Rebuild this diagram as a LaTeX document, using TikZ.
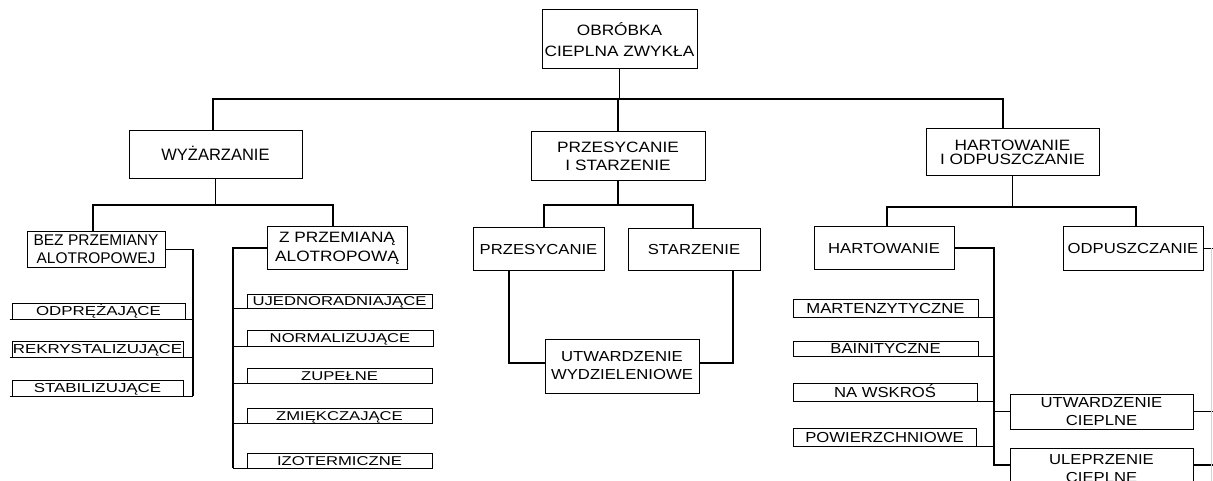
\documentclass[tikz,border=0pt]{standalone}
\usepackage{fontspec}
\setmainfont{Liberation Sans}
\newfontfamily\fA{Liberation Sans}
\newfontfamily\fB{Liberation Sans}[FakeStretch=1.15]
\newfontfamily\fC{Liberation Sans}[FakeStretch=1.3]
\usetikzlibrary{calc}
\begin{document}
\begin{tikzpicture}[x=1pt,y=-1pt,
  box/.style={draw, line width=1pt, inner sep=0pt, align=center},
  sbox/.style={draw, line width=0.8pt, inner sep=0pt, text height=9.3pt, text depth=0pt},
  lsub/.style={sbox, font=\fC\fontsize{13}{15}\selectfont},
  msub/.style={sbox, font=\fC\fontsize{12.8}{15}\selectfont, text height=9.1pt},
  rsub/.style={sbox, font=\fB\fontsize{14.5}{16}\selectfont, text height=10.4pt},
  mid/.style={box, font=\fB\fontsize{14.5}{18}\selectfont},
  conn/.style={line width=1.4pt}]
\useasboundingbox (0,0) rectangle (1213,481);
\clip (0,0) rectangle (1213,481);

% level 0 and 1
\node[box, minimum width=155pt, minimum height=59pt, font=\fB\fontsize{15}{21}\selectfont] (top) at (619.5,39.5) {OBRÓBKA\\CIEPLNA ZWYKŁA};
\node[box, minimum width=173pt, minimum height=48pt, font=\fA\fontsize{16.5}{18}\selectfont, text height=11.8pt, text depth=0pt] (wyz) at (215.5,155) {WYŻARZANIE};
\node[box, minimum width=174pt, minimum height=49pt, font=\fB\fontsize{15}{18}\selectfont] (prz) at (618,156.5) {PRZESYCANIE\\I STARZENIE};
\node[box, minimum width=173pt, minimum height=47pt, font=\fB\fontsize{15}{13.5}\selectfont] (hart) at (1012.5,152.5) {HARTOWANIE\\I ODPUSZCZANIE};

% level 2 left
\node[box, minimum width=138pt, minimum height=35pt, font=\fA\fontsize{15.5}{18}\selectfont] (bez) at (96,249.5) {BEZ PRZEMIANY\\ALOTROPOWEJ};
\node[box, minimum width=140pt, minimum height=42pt, font=\fB\fontsize{15}{19}\selectfont] (zpr) at (337,248) {Z PRZEMIANĄ\\ALOTROPOWĄ};

\node[lsub, minimum width=173pt, minimum height=16pt] (odp) at (98.5,311) {ODPRĘŻAJĄCE};
\node[lsub, minimum width=171pt, minimum height=16pt] (rek) at (97.5,349) {REKRYSTALIZUJĄCE};
\node[lsub, minimum width=171pt, minimum height=16pt] (stab) at (97.5,388) {STABILIZUJĄCE};

\node[msub, minimum width=185pt, minimum height=14pt] (uje) at (339.5,301) {UJEDNORADNIAJĄCE};
\node[msub, minimum width=186pt, minimum height=16pt] (norm) at (340,338) {NORMALIZUJĄCE};
\node[msub, minimum width=185pt, minimum height=15pt] (zup) at (339.5,375.5) {ZUPEŁNE};
\node[msub, minimum width=185pt, minimum height=15pt] (zmi) at (339.5,415.5) {ZMIĘKCZAJĄCE};
\node[msub, minimum width=185pt, minimum height=15pt] (izo) at (339.5,460.5) {IZOTERMICZNE};

% level 2 middle
\node[mid, minimum width=131pt, minimum height=42pt, text height=10.4pt, text depth=0pt] (przes) at (538.5,249) {PRZESYCANIE};
\node[mid, minimum width=132pt, minimum height=41pt, text height=10.4pt, text depth=0pt] (star) at (694,249.5) {STARZENIE};
\node[mid, minimum width=154pt, minimum height=54pt] (utw) at (622,366) {UTWARDZENIE\\WYDZIELENIOWE};

% level 2 right
\node[mid, minimum width=140pt, minimum height=42pt, text height=10.4pt, text depth=0pt] (harto) at (884,248) {HARTOWANIE};
\node[mid, minimum width=140pt, minimum height=43pt, text height=10.4pt, text depth=0pt] (odpu) at (1133,248.5) {ODPUSZCZANIE};

\node[rsub, minimum width=185pt, minimum height=18pt] (mart) at (885.5,308) {MARTENZYTYCZNE};
\node[rsub, minimum width=185pt, minimum height=15pt] (bain) at (885.5,348.5) {BAINITYCZNE};
\node[rsub, minimum width=184pt, minimum height=18pt] (naw) at (885,392) {NA WSKROŚ};
\node[rsub, minimum width=183pt, minimum height=18pt] (pow) at (884.5,437) {POWIERZCHNIOWE};

\node[mid, minimum width=183pt, minimum height=35pt] (utwc) at (1101.5,411.5) {UTWARDZENIE\\CIEPLNE};
\node[mid, minimum width=183pt, minimum height=42pt] (ulep) at (1101.5,469) {ULEPRZENIE\\CIEPLNE};

% bus coordinates
\coordinate (b1) at (0,99);
\coordinate (b2) at (0,205);
\coordinate (b3) at (0,207);
\coordinate (v1) at (193,0);
\coordinate (v2) at (233,0);
\coordinate (v3) at (994,0);
\coordinate (vm) at (0,363);
\coordinate (hu) at (0,465);
\coordinate (re) at (1213,0);

% level 1 connectors
\draw[conn] (top.south) -- (top.south |- b1);
\draw[conn] ($(wyz.north)+(-2.5,0)$) |- (top.south |- b1);
\draw[conn] ($(hart.north)+(-9.5,0)$) |- (top.south |- b1);
\draw[conn] (prz.north) -- (prz.north |- b1);

% under WYZARZANIE
\draw[conn] (wyz.south) -- (wyz.south |- b2);
\draw[conn] ($(bez.north)+(-3,0)$) |- (wyz.south |- b2);
\draw[conn] ($(zpr.north)+(-4,0)$) |- (wyz.south |- b2);

\draw[conn] (bez.east) -| (v1 |- stab.south);
\draw[conn] ($(odp.south west)+(-2,0)$) -- (v1 |- odp.south);
\draw[conn] ($(rek.south west)+(-2,0)$) -- (v1 |- rek.south);
\draw[conn] ($(stab.south west)+(-2,0)$) -- (v1 |- stab.south);

\draw[conn] (zpr.west) -| (v2 |- izo.south);
\draw[conn] (v2 |- uje.south) -- (uje.south east);
\draw[conn] (v2 |- norm.south) -- (norm.south east);
\draw[conn] (v2 |- zup.south) -- (zup.south east);
\draw[conn] (v2 |- zmi.south) -- (zmi.south east);
\draw[conn] (v2 |- izo.south) -- (izo.south east);

% middle
\draw[conn] (prz.south) -- (prz.south |- b2);
\draw[conn] ($(przes.north)+(5.5,0)$) |- (prz.south |- b2);
\draw[conn] ($(star.north)+(-1,0)$) |- (prz.south |- b2);
\draw[conn] ($(przes.south)+(-29.5,0)$) |- (utw.west |- vm);
\draw[conn] ($(star.south)+(39,0)$) |- (utw.east |- vm);

% right
\draw[conn] (hart.south) -- (hart.south |- b3);
\draw[conn] ($(harto.north)+(3,0)$) |- (hart.south |- b3);
\draw[conn] ($(odpu.north)+(3,0)$) |- (hart.south |- b3);
\draw[conn] (harto.east) -| (v3 |- hu) -- (ulep.west |- hu);
\draw[conn] (mart.south west) -- (v3 |- mart.south);
\draw[conn] (bain.south west) -- (v3 |- bain.south);
\draw[conn] (naw.south west) -- (v3 |- naw.south);
\draw[conn] (pow.south west) -- (v3 |- pow.south);
\draw[conn] (v3 |- utwc.west) -- (utwc.west);
\draw[conn] (utwc.east) -- (re |- utwc.east);
\draw[conn] (ulep.east |- hu) -- (re |- hu);
\draw[conn] (odpu.east) -- (re |- odpu.east);
\draw[gray!35, line width=0.6pt] ($(re |- odpu.east)+(-2,0)$) -- ($(re |- ulep.south)+(-2,0)$);
\end{tikzpicture}
\end{document}
